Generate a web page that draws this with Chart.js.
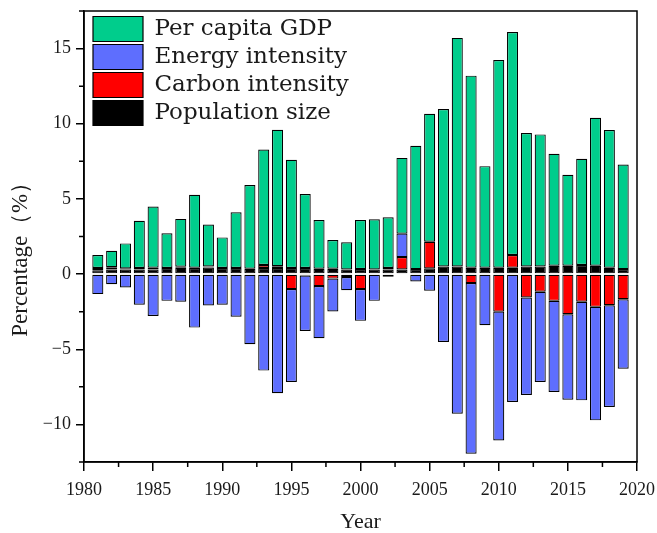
<!DOCTYPE html>
<html>
<head>
<meta charset="utf-8">
<script src="https://cdn.jsdelivr.net/npm/chart.js@4.4.1/dist/chart.umd.min.js"></script>
<style>
html, body { margin: 0; padding: 0; background: #fff; }
</style>
</head>
<body>
<canvas id="chart" width="657" height="533"></canvas>
<script>
// Years on the x axis
const years = [1981, 1982, 1983, 1984, 1985, 1986, 1987, 1988, 1989, 1990,
               1991, 1992, 1993, 1994, 1995, 1996, 1997, 1998, 1999, 2000,
               2001, 2002, 2003, 2004, 2005, 2006, 2007, 2008, 2009, 2010,
               2011, 2012, 2013, 2014, 2015, 2016, 2017, 2018, 2019];

// Contributions (%)
const population = [0.25, 0.30, 0.30, 0.30, 0.30, 0.40, 0.42, 0.40, 0.44, 0.40,
                    0.40, 0.35, 0.40, 0.40, 0.40, 0.40, 0.35, 0.35, 0.30, 0.33,
                    0.30, 0.30, 0.30, 0.33, 0.38, 0.50, 0.50, 0.42, 0.42, 0.42,
                    0.42, 0.50, 0.50, 0.55, 0.55, 0.60, 0.55, 0.42, 0.33];
const carbon = [0.15, 0.15, 0.08, 0.10, 0.12, 0, 0.07, 0.02, 0.07, 0,
                -0.05, -0.05, 0.20, 0.12, -1.0, -0.1, -0.8, -0.3, -0.2, -1.0,
                0, 0.1, 0.83, 0, 1.77, 0, 0, -0.6, -0.05, -2.5,
                0.85, -1.56, -1.18, -1.78, -2.67, -1.84, -2.18, -2.07, -1.67];
const energy = [-1.33, -0.67, -0.89, -2.04, -2.78, -1.78, -1.84, -3.56, -2.09, -2.04,
                -2.79, -4.62, -6.42, -7.93, -6.18, -3.68, -3.47, -2.19, -0.87, -2.11,
                -1.78, -0.18, 1.56, -0.49, -1.11, -4.51, -9.29, -11.35, -3.35, -8.57,
                -8.51, -6.48, -6.00, -6.06, -5.69, -6.56, -7.55, -6.77, -4.62];
const gdp = [0.87, 1.10, 1.66, 3.15, 4.07, 2.31, 3.18, 4.85, 2.78, 2.04,
             3.71, 5.58, 7.69, 9.08, 7.20, 4.93, 3.25, 1.92, 1.81, 3.27,
             3.34, 3.38, 5.04, 8.20, 8.52, 10.48, 15.21, 12.78, 6.76, 13.82,
             14.83, 8.88, 8.79, 7.45, 6.05, 7.07, 9.85, 9.16, 6.96];

// Tick values
const xMajor = [1980, 1985, 1990, 1995, 2000, 2005, 2010, 2015, 2020];
const xMinor = [1982.5, 1987.5, 1992.5, 1997.5, 2002.5, 2007.5, 2012.5, 2017.5];
const yMajor = [-10, -5, 0, 5, 10, 15];
const yMinor = [-12.5, -7.5, -2.5, 2.5, 7.5, 12.5, 17.5];

function points(vals) {
    return years.map((yr, i) => ({ x: yr, y: vals[i] }));
}

// box around the plot plus the short minor ticks
const framePlugin = {
    id: 'frame',
    afterLayout(chart) {
        const lg = chart.legend;
        const a = chart.chartArea;
        lg.left = a.left + 6;
        lg.top = a.top + 2.5;
        lg.right = lg.left + lg.width;
        lg.bottom = lg.top + lg.height;
    },
    afterDraw(chart) {
        const ctx = chart.ctx;
        const a = chart.chartArea;
        const x = chart.scales.x;
        const y = chart.scales.y;
        ctx.save();
        ctx.strokeStyle = '#000';
        ctx.lineWidth = 1.5;
        ctx.strokeRect(a.left, a.top, a.right - a.left, a.bottom - a.top);
        ctx.beginPath();
        xMinor.forEach(v => {
            const px = x.getPixelForValue(v);
            ctx.moveTo(px, a.bottom);
            ctx.lineTo(px, a.bottom + 5);
        });
        yMinor.forEach(v => {
            const py = y.getPixelForValue(v);
            ctx.moveTo(a.left, py);
            ctx.lineTo(a.left - 5, py);
        });
        ctx.stroke();
        ctx.restore();
    }
};

const barStyle = {
    borderColor: '#000',
    borderWidth: 1.2,
    borderSkipped: false,
    barPercentage: 0.8,
    categoryPercentage: 1.0
};

Chart.defaults.font.family = 'Liberation Serif';
Chart.defaults.color = '#1a1a1a';

new Chart(document.getElementById('chart'), {
    type: 'bar',
    data: {
        datasets: [
            Object.assign({ label: 'Population size', data: points(population), backgroundColor: '#000000' }, barStyle),
            Object.assign({ label: 'Carbon intensity', data: points(carbon), backgroundColor: '#ff0000' }, barStyle),
            Object.assign({ label: 'Energy intensity', data: points(energy), backgroundColor: '#5e6efe' }, barStyle),
            Object.assign({ label: 'Per capita GDP', data: points(gdp), backgroundColor: '#00cd8c' }, barStyle)
        ]
    },
    options: {
        responsive: false,
        animation: false,
        devicePixelRatio: 1,
        layout: { padding: { top: 11, right: 20, left: 0, bottom: 0 } },
        plugins: {
            tooltip: { enabled: false },
            legend: {
                position: 'chartArea',
                align: 'start',
                reverse: true,
                labels: {
                    font: { family: 'DejaVu Serif', size: 23 },
                    color: '#1a1a1a',
                    boxWidth: 50,
                    boxHeight: 25,
                    padding: 3
                }
            }
        },
        scales: {
            x: {
                type: 'linear',
                min: 1980,
                max: 2020,
                stacked: true,
                offset: false,
                afterBuildTicks: s => { s.ticks = xMajor.map(v => ({ value: v })); },
                afterFit: s => { s.height = 71; s.paddingLeft = 0; s.paddingRight = 0; },
                grid: { display: true, drawOnChartArea: false, offset: false, tickLength: 9, color: '#000', lineWidth: 1.5 },
                border: { display: true, color: '#000', width: 1.5 },
                ticks: {
                    font: { size: 18 },
                    padding: 8,
                    maxRotation: 0,
                    autoSkip: false,
                    callback: v => String(v)
                },
                title: {
                    display: true,
                    text: 'Year',
                    font: { size: 22, lineHeight: 1 },
                    padding: 0
                }
            },
            y: {
                type: 'linear',
                min: -12.5,
                max: 17.5,
                stacked: true,
                afterBuildTicks: s => { s.ticks = yMajor.map(v => ({ value: v })); },
                afterFit: s => { s.width = 84; s.paddingTop = 0; s.paddingBottom = 0; },
                grid: { display: true, drawOnChartArea: false, tickLength: 8, color: '#000', lineWidth: 1.5 },
                border: { display: true, color: '#000', width: 1.5 },
                ticks: {
                    font: { size: 18 },
                    padding: 5,
                    callback: v => String(v).replace('-', '\u2212')
                },
                title: {
                    display: true,
                    text: 'Percentage（%）\u3000  ',
                    font: { size: 23, lineHeight: 1 },
                    padding: { top: 9, bottom: 0 }
                }
            }
        }
    },
    plugins: [framePlugin]
});
</script>
</body>
</html>
